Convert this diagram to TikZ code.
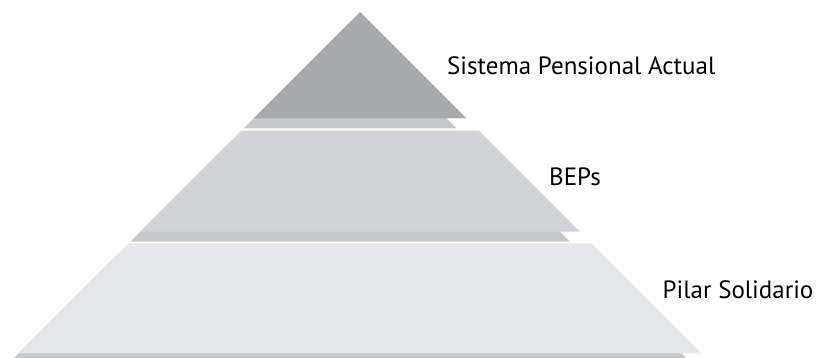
\documentclass[tikz,border=0pt]{standalone}
\usepackage{fontspec}
\setmainfont{PT Sans}
\definecolor{cumbre}{HTML}{A7A9AC}
\definecolor{medio}{HTML}{D1D3D4}
\definecolor{base}{HTML}{E6E7E8}
\definecolor{sombra}{HTML}{C7C8CA}
\tikzset{
  sombra/.style={fill=sombra,xshift=-10pt,yshift=-10pt},
  etiqueta/.style={anchor=base west,inner sep=0pt,font=\fontsize{25}{30}\selectfont}
}
\begin{document}
\begin{tikzpicture}[x=1pt,y=-1pt]
    \useasboundingbox(0,0)rectangle(828,358);
    \clip(0,0)rectangle(828,358);
    % sombras
    \fill[sombra](360,12)--(466.5,118.5)--(253.5,118.5)--cycle;
    \fill[sombra](241.3,130.7)--(478.7,130.7)--(579.7,231.7)--(140.3,231.7)--cycle;
    \fill[sombra](128.5,243.5)--(591.5,243.5)--(701.3,353.3)--(18.7,353.3)--cycle;
    % niveles
    \fill[cumbre](360,12)--(466.5,118.5)--(253.5,118.5)--cycle;
    \fill[medio](241.3,130.7)--(478.7,130.7)--(579.7,231.7)--(140.3,231.7)--cycle;
    \fill[base](128.5,243.5)--(591.5,243.5)--(701.3,353.3)--(18.7,353.3)--cycle;
    % textos
    \node[etiqueta](actual)at(447,74.3){Sistema Pensional Actual};
    \node[etiqueta](beps)at(549,185.7){BEPs};
    \node[etiqueta](pilar)at(662.5,299){Pilar Solidario};
\end{tikzpicture}
\end{document}
